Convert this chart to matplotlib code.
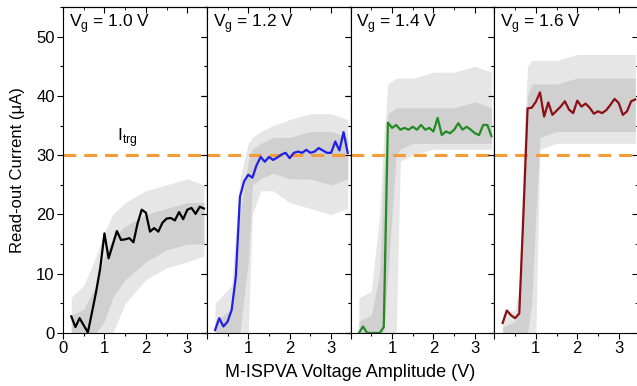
import matplotlib
matplotlib.use('Agg')
import matplotlib.pyplot as plt
from matplotlib.ticker import MultipleLocator, FuncFormatter

plt.rcParams['font.family'] = ['Liberation Sans', 'DejaVu Sans']

# amplitude grid of the highlighted traces (V)
amp = [0.2, 0.3, 0.4, 0.5, 0.6, 0.7, 0.8, 0.9, 1.0, 1.1, 1.2, 1.3, 1.4, 1.5, 1.6, 1.7, 1.8,
       1.9, 2.0, 2.1, 2.2, 2.3, 2.4, 2.5, 2.6, 2.7, 2.8, 2.9, 3.0, 3.1, 3.2, 3.3, 3.4]

# highlighted read-out current per gate voltage (uA)
cur_10 = [2.8, 1.0, 2.5, 1.3, 0.1, 3.5, 7.0, 11.0, 16.8, 12.6, 14.9, 17.2, 15.7, 15.8, 16.0, 15.3, 18.5,
          20.8, 20.3, 17.1, 17.7, 17.1, 18.6, 19.3, 19.4, 19.0, 20.4, 19.2, 20.8, 21.1, 20.1, 21.3, 21.0]
cur_12 = [0.5, 2.5, 1.1, 1.9, 3.9, 9.5, 23.0, 25.6, 26.7, 26.2, 28.3, 29.7, 28.9, 29.7, 29.2, 29.6, 30.1,
          30.4, 29.5, 30.4, 30.6, 30.4, 30.9, 30.4, 30.6, 31.2, 30.8, 30.4, 30.4, 32.3, 30.8, 33.9, 30.4]
cur_14 = [0.0, 1.1, 0.0, 0.0, 0.0, 0.0, 1.0, 35.5, 34.6, 35.1, 34.3, 34.6, 34.3, 34.8, 34.3, 35.1, 34.3,
          34.6, 34.0, 36.3, 33.4, 34.0, 33.7, 34.3, 35.4, 34.3, 34.8, 34.3, 33.7, 33.4, 35.1, 35.1, 33.2]
cur_16 = [1.7, 3.8, 3.0, 2.5, 3.3, 20.0, 37.9, 38.0, 39.0, 40.6, 36.5, 38.9, 36.8, 37.5, 38.2, 39.1, 37.7,
          37.1, 39.2, 38.2, 38.7, 38.0, 37.0, 37.4, 37.1, 37.6, 38.5, 39.5, 38.8, 36.8, 37.4, 39.1, 39.4]

# spread of all the other grey traces (outer and dense inner range)
band_x_10 = [0.2, 0.5, 0.8, 1.0, 1.2, 1.5, 2.0, 2.5, 3.0, 3.4]
outer_lo_10 = [0, 0, 0, 0, 0, 5, 9, 11, 12, 13]
outer_hi_10 = [6, 8, 13, 17, 20, 22, 24, 25, 26, 25]
inner_lo_10 = [0, 0, 0, 2, 6, 9, 12, 14, 15, 15]
inner_hi_10 = [3, 4, 8, 13, 16, 18, 20, 21, 22, 22]

band_x_12 = [0.2, 0.6, 0.8, 1.0, 1.1, 1.3, 1.6, 2.0, 2.5, 3.0, 3.4]
outer_lo_12 = [0, 0, 0, 0, 20, 24, 24, 22, 21, 20, 21]
outer_hi_12 = [5, 8, 26, 32, 33, 34, 35, 36, 37, 37, 36]
inner_lo_12 = [0, 0, 0, 12, 25, 26, 27, 26, 26, 25, 26]
inner_hi_12 = [2, 4, 20, 29, 31, 32, 33, 33, 34, 34, 33]

band_x_14 = [0.2, 0.5, 0.7, 0.8, 0.9, 1.1, 1.2, 1.5, 2.0, 2.5, 3.0, 3.4]
outer_lo_14 = [0, 0, 0, 0, 0, 0, 29, 30, 31, 31, 31, 31]
outer_hi_14 = [6, 7, 20, 33, 42, 43, 43, 43, 44, 44, 45, 44]
inner_lo_14 = [0, 0, 0, 0, 10, 30, 31, 32, 32, 32, 32, 32]
inner_hi_14 = [2, 3, 10, 27, 37, 38, 38, 38, 38, 38, 39, 38]

band_x_16 = [0.2, 0.5, 0.6, 0.7, 0.8, 0.9, 1.0, 1.1, 1.5, 2.0, 2.5, 3.0, 3.4]
outer_lo_16 = [0, 0, 0, 0, 0, 0, 0, 31, 32, 32, 32, 32, 32]
outer_hi_16 = [3, 4, 8, 30, 45, 46, 46, 46, 46, 47, 47, 47, 47]
inner_lo_16 = [0, 0, 0, 0, 0, 5, 20, 33, 34, 34, 34, 34, 34]
inner_hi_16 = [1, 2, 4, 20, 40, 42, 42, 42, 42, 43, 43, 43, 43]

gate_labels = ['1.0', '1.2', '1.4', '1.6']
i_trg = 30

panels = [
    (cur_10, 'black', band_x_10, outer_lo_10, outer_hi_10, inner_lo_10, inner_hi_10),
    (cur_12, '#1f1fe6', band_x_12, outer_lo_12, outer_hi_12, inner_lo_12, inner_hi_12),
    (cur_14, '#228b22', band_x_14, outer_lo_14, outer_hi_14, inner_lo_14, inner_hi_14),
    (cur_16, '#8b0f14', band_x_16, outer_lo_16, outer_hi_16, inner_lo_16, inner_hi_16),
]

fig = plt.figure(figsize=(6.37, 3.86), dpi=100)
left, bottom, top = 63 / 637, 1 - 333 / 386, 1 - 7 / 386
w = 143.8 / 637

for i, (cur, col, bx, olo, ohi, ilo, ihi) in enumerate(panels):
    ax = fig.add_axes([left + i * w, bottom, w, top - bottom])
    ax.fill_between(bx, olo, ohi, color='#e6e6e6', lw=0)
    ax.fill_between(bx, ilo, ihi, color='#d0d0d0', lw=0)
    ax.axhline(i_trg, color='#f29b38', lw=2.2, dashes=(4.2, 2.6))
    ax.plot(amp, cur, color=col, lw=1.6)

    ax.set_xlim(0, 3.47)
    ax.set_ylim(0, 55)
    ax.xaxis.set_major_locator(MultipleLocator(1))
    ax.xaxis.set_minor_locator(MultipleLocator(0.5))
    ax.yaxis.set_major_locator(MultipleLocator(10))
    ax.yaxis.set_minor_locator(MultipleLocator(5))
    ax.tick_params(which='major', direction='out', length=4, width=0.8, labelsize=12, pad=2)
    ax.tick_params(which='minor', direction='out', length=2.5, width=0.8)
    if i > 0:
        ax.xaxis.set_major_formatter(FuncFormatter(lambda v, p: '' if v == 0 else '%d' % v))
        ax.tick_params(axis='y', labelleft=False)

    # inward ticks on the top and right frame
    top_ax = ax.secondary_xaxis('top')
    top_ax.xaxis.set_major_locator(MultipleLocator(1))
    top_ax.xaxis.set_minor_locator(MultipleLocator(0.5))
    top_ax.tick_params(which='both', direction='in', labeltop=False)
    top_ax.tick_params(which='major', length=4)
    top_ax.tick_params(which='minor', length=2.5)
    right_ax = ax.secondary_yaxis('right')
    right_ax.yaxis.set_major_locator(MultipleLocator(10))
    right_ax.yaxis.set_minor_locator(MultipleLocator(5))
    right_ax.tick_params(which='both', direction='in', labelright=False)
    right_ax.tick_params(which='major', length=4)
    right_ax.tick_params(which='minor', length=2.5)

    ax.text(0.04, 0.985, r'V$_\mathregular{g}$ = %s V' % gate_labels[i], transform=ax.transAxes,
            ha='left', va='top', fontsize=12.5)
    if i == 0:
        ax.text(1.55, 31, r'I$_\mathregular{trg}$', ha='center', va='bottom', fontsize=12.5)

fig.text(0.028, (bottom + top) / 2, u'Read-out Current (\u03bcA)', rotation=90,
         ha='center', va='center', fontsize=12)
fig.text(left + 2 * w, 0.035, 'M-ISPVA Voltage Amplitude (V)', ha='center', va='center', fontsize=13)

fig.savefig('out.png', dpi=100)
